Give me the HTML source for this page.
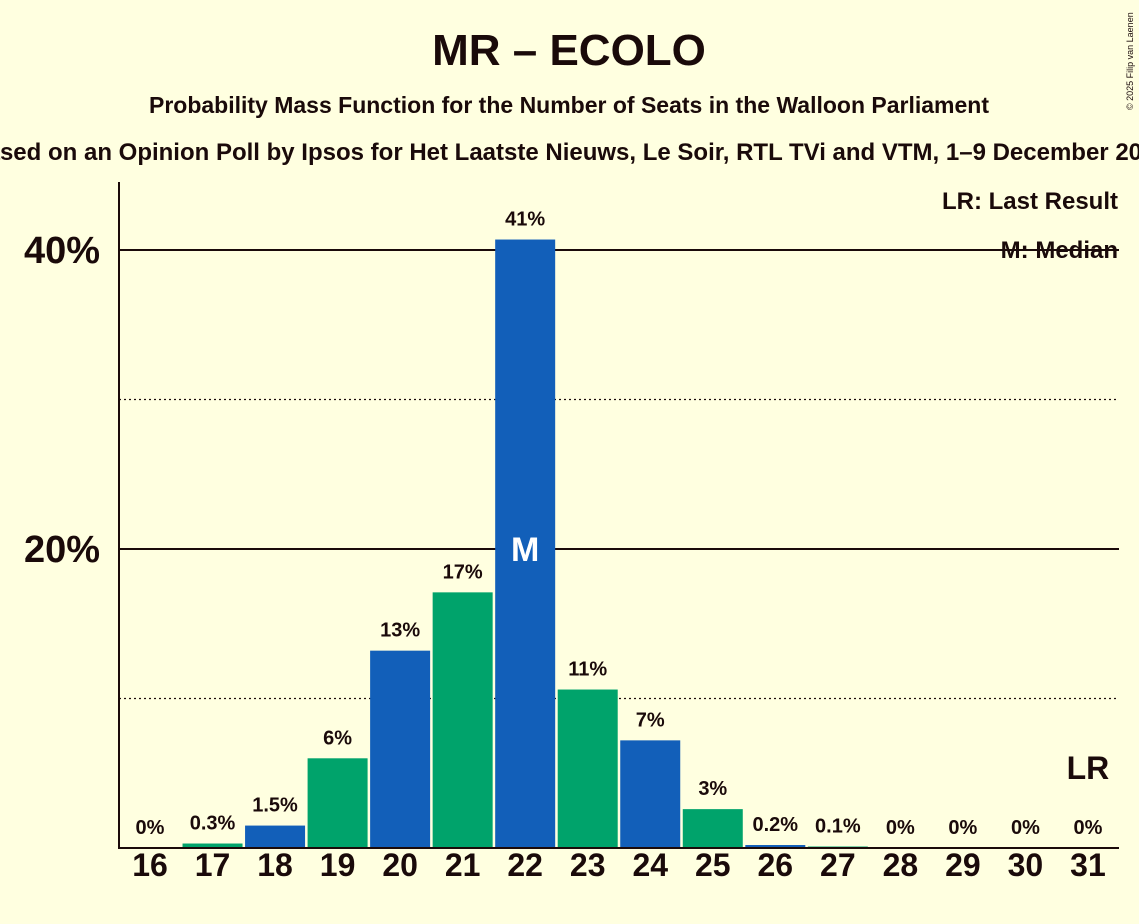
<!DOCTYPE html>
<html><head><meta charset="utf-8"><style>
html,body{margin:0;padding:0;background:#FFFFE0;overflow:hidden}
svg{display:block;font-family:"Liberation Sans",sans-serif}
</style></head><body>
<svg id="c" width="1139" height="924">
<rect width="1139" height="924" fill="#FFFFE0"/>
<text x="569" y="65" text-anchor="middle" font-size="44" font-weight="bold" fill="#1a0a0a">MR – ECOLO</text>
<text x="569" y="113" text-anchor="middle" font-size="23" font-weight="bold" fill="#1a0a0a">Probability Mass Function for the Number of Seats in the Walloon Parliament</text>
<text x="569" y="160" text-anchor="middle" font-size="24" font-weight="bold" fill="#1a0a0a">Based on an Opinion Poll by Ipsos for Het Laatste Nieuws, Le Soir, RTL TVi and VTM, 1–9 December 2025</text>
<text x="1133" y="110" font-size="9" fill="#1a0a0a" transform="rotate(-90 1133 110)">© 2025 Filip van Laenen</text>
<g id="grid"></g>
<g id="bars"></g>
<line x1="119" y1="182" x2="119" y2="849" stroke="#1a0a0a" stroke-width="2"/>
<line x1="118" y1="848" x2="1119" y2="848" stroke="#1a0a0a" stroke-width="2"/>
<text x="1118" y="209" text-anchor="end" font-size="24" font-weight="bold" fill="#1a0a0a">LR: Last Result</text>
<text x="1118" y="258" text-anchor="end" font-size="24" font-weight="bold" fill="#1a0a0a">M: Median</text>
</svg>
<script>
const seats=[16,17,18,19,20,21,22,23,24,25,26,27,28,29,30,31];
const probs=[0,0.3,1.5,6,13.2,17.1,40.7,10.6,7.2,2.6,0.2,0.1,0,0,0,0];
const labels=["0%","0.3%","1.5%","6%","13%","17%","41%","11%","7%","3%","0.2%","0.1%","0%","0%","0%","0%"];
const yTicks=[20,40];
const yTickLabels=["20%","40%"];
const dotted=[10,30];
const medianSeat=22, lastResultSeat=31;
const NS="http://www.w3.org/2000/svg";
const y=v=>848-v*14.95;
const x=s=>150+(s-16)*62.53;
function mk(t,a,p){const e=document.createElementNS(NS,t);for(const k in a)e.setAttribute(k,a[k]);p.appendChild(e);return e;}
const g=document.getElementById('grid'),b=document.getElementById('bars');
dotted.forEach(v=>{const l=mk('line',{x1:119,x2:1119,y1:y(v),y2:y(v),stroke:'#1a0a0a','stroke-width':1.2,'stroke-dasharray':'2,3'},g);

});
yTicks.forEach((v,i)=>{const l=mk('line',{x1:119,x2:1119,y1:y(v),y2:y(v),stroke:'#1a0a0a','stroke-width':2},g);


const t=mk('text',{x:100,y:y(v)+13,'text-anchor':'end','font-size':38,'font-weight':'bold',fill:'#1a0a0a'},g);t.textContent=yTickLabels[i];

});
seats.forEach((s,i)=>{const cx=x(s),h=probs[i]*14.95;
if(h>0){const r=mk('rect',{x:cx-30,y:848-h,width:60,height:h,fill:i%2?'#00A36B':'#125FB9'},b);

}
const t=mk('text',{x:cx,y:848-h-14,'text-anchor':'middle','font-size':20,'font-weight':'bold',fill:'#1a0a0a'},b);t.textContent=labels[i];


const xt=mk('text',{x:cx,y:876,'text-anchor':'middle','font-size':32,'font-weight':'bold',fill:'#1a0a0a'},b);xt.textContent=s;


if(s===medianSeat){const m=mk('text',{x:cx,y:y(20)+12,'text-anchor':'middle','font-size':34,'font-weight':'bold',fill:'#fff'},b);m.textContent='M';

}
if(s===lastResultSeat){const m=mk('text',{x:cx,y:779,'text-anchor':'middle','font-size':32,'font-weight':'bold',fill:'#1a0a0a'},b);m.textContent='LR';

}
});
</script>
</body></html>
